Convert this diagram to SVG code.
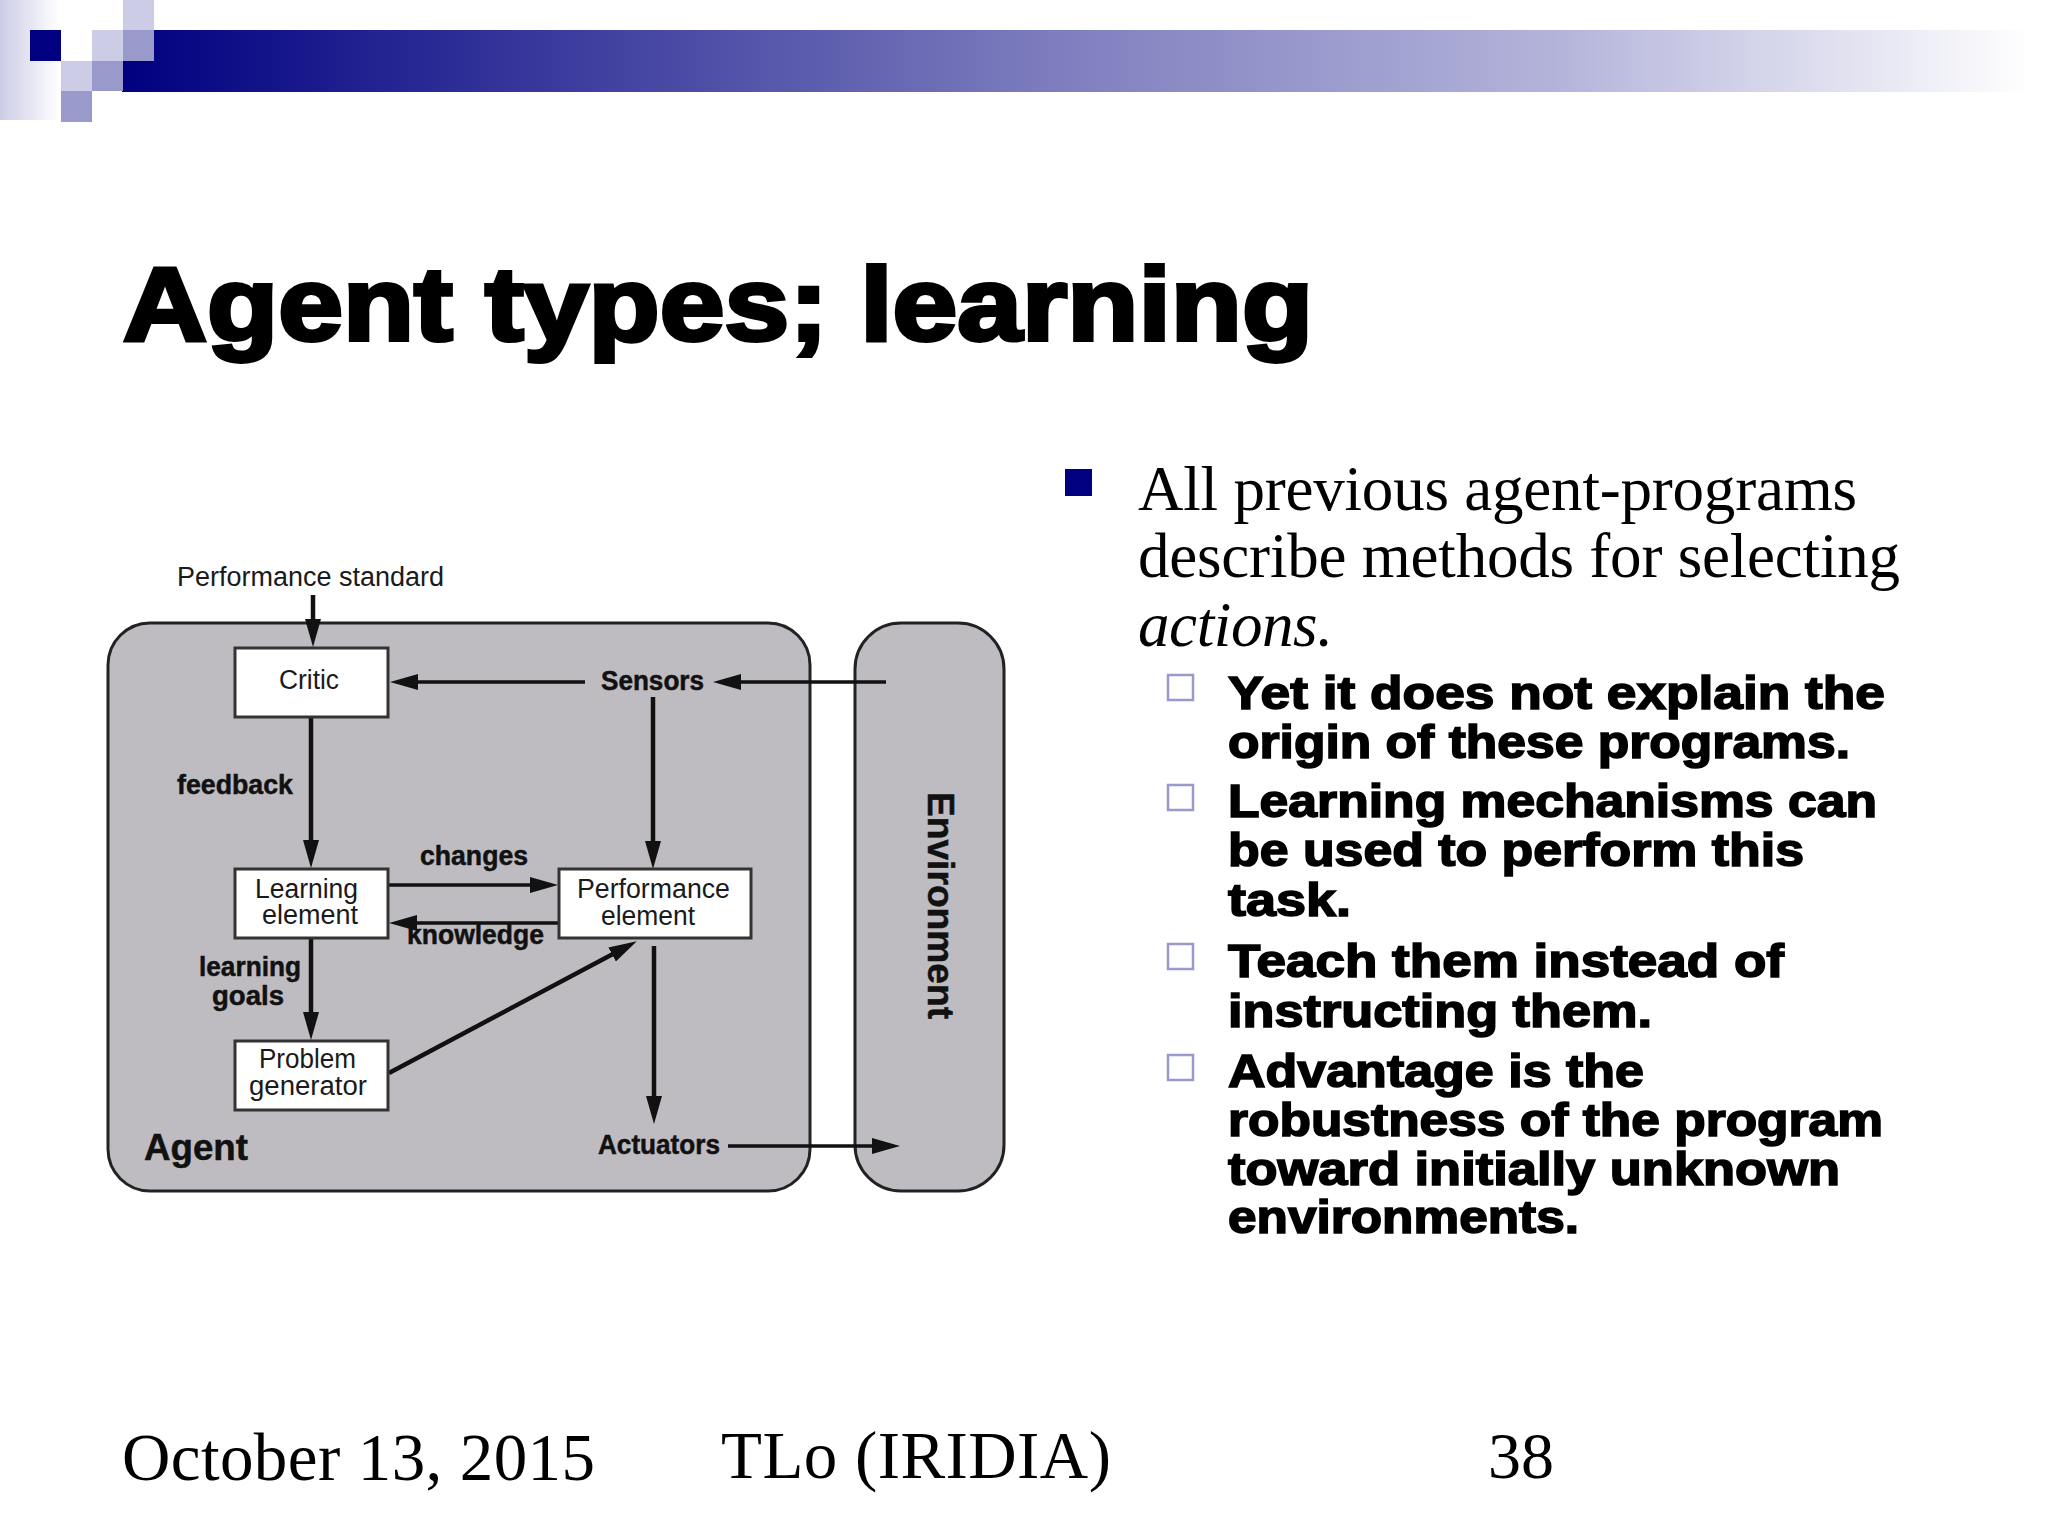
<svg xmlns="http://www.w3.org/2000/svg" width="2048" height="1536" viewBox="0 0 2048 1536">
<style>
.h{font-family:"Liberation Sans",Arial,sans-serif;fill:#1a1a1a;font-size:27px}
.b{font-family:"Liberation Sans",Arial,sans-serif;fill:#111;font-size:27px;font-weight:700;stroke:#111;stroke-width:.5px}
.box{fill:#fff;stroke:#333;stroke-width:3}
.pan{fill:#bebcc0;stroke:#222;stroke-width:3}
.c{stroke:#111;fill:none;stroke-width:4.5}
.t{stroke-width:3.5}
.black{font-family:"Liberation Sans",Arial,sans-serif;font-weight:700;fill:#000;stroke:#000;stroke-width:1.6px;font-size:46px}
.ser{font-family:"Liberation Serif","Times New Roman",serif;fill:#000}
.sq{fill:none;stroke:#9999cc;stroke-width:2.5}
</style>
<defs>
<linearGradient id="bar" x1="0" x2="1" y1="0" y2="0"><stop offset="0" stop-color="#000080"/><stop offset=".5" stop-color="#8080c0"/><stop offset=".75" stop-color="#b3b3da"/><stop offset="1" stop-color="#ffffff"/></linearGradient>
<linearGradient id="fade" x1="0" x2="1" y1="0" y2="0"><stop offset="0" stop-color="#ccccE6"/><stop offset="1" stop-color="#ffffff"/></linearGradient>
<marker id="a" markerUnits="userSpaceOnUse" viewBox="0 0 28 16" markerWidth="28" markerHeight="16" refX="18" refY="8" orient="auto"><path d="M0 0L28 8L0 16Z" fill="#111"/></marker>
</defs>
<rect width="2048" height="1536" fill="#fff"/>
<g id="header">
<rect x="0" y="0" width="60" height="120" fill="url(#fade)"/>
<rect x="122" y="30" width="1908" height="62" fill="url(#bar)"/>
<rect x="30" y="30" width="31" height="31" fill="#000080"/>
<rect x="123" y="0" width="31" height="30" fill="#ccccE6"/>
<rect x="92" y="30" width="31" height="31" fill="#ccccE6"/>
<rect x="123" y="30" width="31" height="31" fill="#9999cc"/>
<rect x="61" y="61" width="31" height="30" fill="#ccccE6"/>
<rect x="92" y="61" width="31" height="30" fill="#9999cc"/>
<rect x="61" y="91" width="31" height="31" fill="#9999cc"/>
</g>
<text id="title" x="123" y="340" textLength="1190" lengthAdjust="spacingAndGlyphs" font-family="Liberation Sans, Arial, sans-serif" font-weight="700" font-size="104" stroke="#000" stroke-width="4">Agent types; learning</text>
<g id="agent"><rect class="pan" x="108" y="623" width="702" height="568" rx="42"/><text class="b" x="144" y="1160" style="font-size:36px" textLength="104" lengthAdjust="spacingAndGlyphs">Agent</text></g>
<g id="environment"><rect class="pan" x="855" y="623" width="149" height="568" rx="46"/><text class="b" transform="translate(928 792) rotate(90)" style="font-size:37px" textLength="227" lengthAdjust="spacingAndGlyphs">Environment</text></g>
<g id="connectors">
<line class="c" x1="313" y1="595" x2="313" y2="637" marker-end="url(#a)"/>
<line class="c t" x1="585" y1="682" x2="400" y2="682" marker-end="url(#a)"/>
<line class="c t" x1="886" y1="682" x2="723" y2="682" marker-end="url(#a)"/>
<line class="c" x1="311" y1="717" x2="311" y2="858" marker-end="url(#a)"/>
<line class="c" x1="653" y1="697" x2="653" y2="859" marker-end="url(#a)"/>
<line class="c t" x1="389" y1="885" x2="548" y2="885" marker-end="url(#a)"/>
<line class="c t" x1="558" y1="923" x2="399" y2="923" marker-end="url(#a)"/>
<line class="c" x1="311" y1="939" x2="311" y2="1030" marker-end="url(#a)"/>
<line class="c" x1="389" y1="1073" x2="628" y2="946" marker-end="url(#a)"/>
<line class="c" x1="654" y1="946" x2="654" y2="1114" marker-end="url(#a)"/>
<line class="c t" x1="728" y1="1146" x2="890" y2="1146" marker-end="url(#a)"/>
</g>
<text id="perf-standard" class="h" x="177" y="586" textLength="267" lengthAdjust="spacingAndGlyphs">Performance standard</text>
<g id="critic"><rect class="box" x="235" y="648" width="153" height="69"/><text class="h" x="279" y="689" textLength="60" lengthAdjust="spacingAndGlyphs">Critic</text></g>
<g id="learning"><rect class="box" x="235" y="869" width="153" height="69"/><text class="h" x="255" y="898" textLength="103" lengthAdjust="spacingAndGlyphs">Learning</text><text class="h" x="262" y="924" textLength="96" lengthAdjust="spacingAndGlyphs">element</text></g>
<g id="performance"><rect class="box" x="559" y="869" width="192" height="69"/><text class="h" x="577" y="898" textLength="153" lengthAdjust="spacingAndGlyphs">Performance</text><text class="h" x="601" y="925" textLength="94" lengthAdjust="spacingAndGlyphs">element</text></g>
<g id="problem"><rect class="box" x="235" y="1041" width="153" height="69"/><text class="h" x="259" y="1068" textLength="97" lengthAdjust="spacingAndGlyphs">Problem</text><text class="h" x="249" y="1095" textLength="118" lengthAdjust="spacingAndGlyphs">generator</text></g>
<g id="labels">
<text class="b" x="177" y="794" textLength="116" lengthAdjust="spacingAndGlyphs">feedback</text>
<text class="b" x="420" y="865" textLength="108" lengthAdjust="spacingAndGlyphs">changes</text>
<text class="b" x="407" y="944" textLength="137" lengthAdjust="spacingAndGlyphs">knowledge</text>
<text class="b" x="199" y="976" textLength="102" lengthAdjust="spacingAndGlyphs">learning</text>
<text class="b" x="212" y="1005" textLength="72" lengthAdjust="spacingAndGlyphs">goals</text>
<text class="b" x="601" y="690" textLength="103" lengthAdjust="spacingAndGlyphs">Sensors</text>
<text class="b" x="598" y="1154" textLength="122" lengthAdjust="spacingAndGlyphs">Actuators</text>
</g>
<g id="bullets">
<rect x="1065" y="469" width="27" height="27" fill="#000080"/>
<text class="ser" font-size="63" x="1138" y="510" textLength="719">All previous agent-programs</text>
<text class="ser" font-size="63" x="1138" y="577" textLength="762">describe methods for selecting</text>
<text class="ser" font-size="63" font-style="italic" x="1138" y="646" textLength="195">actions.</text>
<rect class="sq" x="1168" y="675" width="25" height="25"/>
<rect class="sq" x="1168" y="785" width="25" height="25"/>
<rect class="sq" x="1168" y="944" width="25" height="25"/>
<rect class="sq" x="1168" y="1055" width="25" height="25"/>
<text class="black" x="1228" y="709" textLength="657" lengthAdjust="spacingAndGlyphs">Yet it does not explain the</text>
<text class="black" x="1228" y="758" textLength="622" lengthAdjust="spacingAndGlyphs">origin of these programs.</text>
<text class="black" x="1228" y="817" textLength="649" lengthAdjust="spacingAndGlyphs">Learning mechanisms can</text>
<text class="black" x="1228" y="866" textLength="576" lengthAdjust="spacingAndGlyphs">be used to perform this</text>
<text class="black" x="1228" y="916" textLength="123" lengthAdjust="spacingAndGlyphs">task.</text>
<text class="black" x="1228" y="977" textLength="556" lengthAdjust="spacingAndGlyphs">Teach them instead of</text>
<text class="black" x="1228" y="1027" textLength="424" lengthAdjust="spacingAndGlyphs">instructing them.</text>
<text class="black" x="1228" y="1087" textLength="416" lengthAdjust="spacingAndGlyphs">Advantage is the</text>
<text class="black" x="1228" y="1136" textLength="655" lengthAdjust="spacingAndGlyphs">robustness of the program</text>
<text class="black" x="1228" y="1185" textLength="612" lengthAdjust="spacingAndGlyphs">toward initially unknown</text>
<text class="black" x="1228" y="1233" textLength="351" lengthAdjust="spacingAndGlyphs">environments.</text>
</g>
<g id="footer">
<text class="ser" font-size="67" x="122" y="1480" textLength="473">October 13, 2015</text>
<text class="ser" font-size="67" x="721" y="1478" textLength="390">TLo (IRIDIA)</text>
<text class="ser" font-size="66" x="1488" y="1478">38</text>
</g>
</svg>
